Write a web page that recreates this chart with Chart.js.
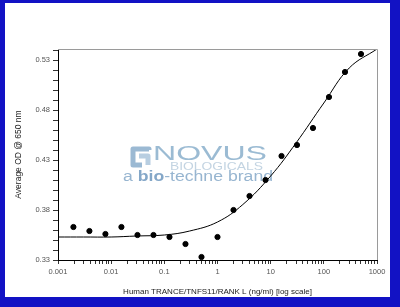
<!DOCTYPE html>
<html>
<head>
<meta charset="utf-8">
<script src="https://cdn.jsdelivr.net/npm/chart.js@4/dist/chart.umd.min.js"></script>
<style>
  html, body { margin: 0; padding: 0; }
  body { width: 400px; height: 307px; background: #1212c4; position: relative; overflow: hidden; }
  #frame { position: absolute; left: 5px; top: 3px; width: 385px; height: 294px; background: #fff; }
</style>
</head>
<body>
<div id="frame"><canvas id="odChart" width="385" height="294"></canvas></div>
<script>
// measured points (ng/ml vs average OD)
const concentrations = [0.00195, 0.0039, 0.0078, 0.0156, 0.03125, 0.0625, 0.125, 0.25, 0.5, 1, 2, 4, 8, 16, 31.25, 62.5, 125, 250, 500];
const avgOD = [0.363, 0.359, 0.356, 0.363, 0.355, 0.355, 0.353, 0.346, 0.333, 0.353, 0.380, 0.394, 0.410, 0.434, 0.445, 0.462, 0.493, 0.518, 0.536];

// fitted curve, every half decade
const fitX = [0.001, 0.003, 0.01, 0.03, 0.1, 0.3, 1, 3, 10, 30, 100, 300, 1000];
const fitY = [0.353, 0.353, 0.353, 0.354, 0.355, 0.359, 0.368, 0.3855, 0.414, 0.447, 0.487, 0.522, 0.541];

// axis ticks
const xTickLabels = ['0.001', '0.01', '0.1', '1', '10', '100', '1000'];
const xTickValues = [0.001, 0.01, 0.1, 1, 10, 100, 1000];
const yTickValues = [0.33, 0.38, 0.43, 0.48, 0.53];
const yMin = 0.33, yMax = 0.541;

const xTitle = 'Human TRANCE/TNFS11/RANK L (ng/ml) [log scale]';
const yTitle = 'Average OD @ 650 nm';

const frameBox = {
  id: 'frameBox',
  afterDatasetsDraw(chart) {
    const { ctx, chartArea: a } = chart;
    ctx.save();
    ctx.strokeStyle = '#9a9a9a';
    ctx.lineWidth = 1;
    ctx.beginPath();
    ctx.moveTo(a.left, a.top + 0.5);
    ctx.lineTo(a.right + 0.5, a.top + 0.5);
    ctx.lineTo(a.right + 0.5, a.bottom);
    ctx.stroke();
    ctx.restore();
  }
};

// draw text stretched to a given width
function fitText(ctx, parts, x, y, w) {
  let total = 0;
  parts.forEach(p => { ctx.font = p.font; total += ctx.measureText(p.text).width; });
  ctx.save();
  ctx.translate(x, y);
  ctx.scale(w / total, 1);
  let cx = 0;
  parts.forEach(p => {
    ctx.font = p.font;
    ctx.fillStyle = p.color;
    ctx.fillText(p.text, cx, 0);
    cx += ctx.measureText(p.text).width;
  });
  ctx.restore();
}

const watermark = {
  id: 'watermark',
  beforeDatasetsDraw(chart) {
    const { ctx, chartArea: a } = chart;
    const ox = a.left, oy = a.top;
    const fam = '"Liberation Sans", Arial, sans-serif';
    ctx.save();
    // logo mark
    ctx.lineJoin = 'round';
    ctx.lineWidth = 5;
    ctx.strokeStyle = 'rgba(130,168,200,0.8)';
    ctx.beginPath();
    ctx.moveTo(ox + 91, oy + 101);
    ctx.lineTo(ox + 91, oy + 100);
    ctx.lineTo(ox + 75, oy + 100);
    ctx.lineTo(ox + 75, oy + 116);
    ctx.lineTo(ox + 84, oy + 116);
    ctx.stroke();
    ctx.strokeStyle = 'rgba(160,190,215,0.75)';
    ctx.beginPath();
    ctx.moveTo(ox + 81, oy + 107);
    ctx.lineTo(ox + 90, oy + 107);
    ctx.lineTo(ox + 90, oy + 116);
    ctx.stroke();
    // wordmark
    fitText(ctx, [{ text: 'NOVUS', font: '19.5px ' + fam, color: 'rgba(130,170,200,0.8)' }], ox + 95, oy + 111, 114);
    fitText(ctx, [{ text: 'BIOLOGICALS', font: '11.5px ' + fam, color: 'rgba(175,198,216,0.75)' }], ox + 112, oy + 121, 93);
    fitText(ctx, [
      { text: 'a ', font: '14px ' + fam, color: 'rgba(125,163,196,0.8)' },
      { text: 'bio', font: 'bold 14px ' + fam, color: 'rgba(110,152,190,0.85)' },
      { text: '-techne brand', font: '14px ' + fam, color: 'rgba(125,163,196,0.8)' }
    ], ox + 65, oy + 132, 150);
    ctx.restore();
  }
};

const ctx = document.getElementById('odChart').getContext('2d');
const chart = new Chart(ctx, {
  type: 'scatter',
  data: {
    datasets: [{
      label: 'Average OD',
      data: concentrations.map((c, i) => ({ x: c, y: avgOD[i] })),
      backgroundColor: '#000',
      borderColor: '#000',
      pointRadius: 2.6,
      pointHoverRadius: 2.6,
      clip: false,
      order: 1
    }, {
      label: 'Fit',
      type: 'line',
      data: fitX.map((c, i) => ({ x: c, y: fitY[i] })),
      borderColor: '#000',
      borderWidth: 1,
      pointRadius: 0,
      tension: 0.4,
      fill: false,
      order: 2
    }]
  },
  options: {
    responsive: false,
    animation: false,
    layout: { padding: { top: 46, right: 13, left: 0, bottom: 0 } },
    plugins: {
      legend: { display: false },
      tooltip: { enabled: false }
    },
    scales: {
      x: {
        type: 'logarithmic',
        min: 0.001,
        max: 1000,
        afterFit(scale) { scale.height = 37; },
        afterBuildTicks(scale) {
          const vals = [];
          for (let e = -3; e < 3; e++) {
            for (let m = 1; m < 10; m++) vals.push(+(m * Math.pow(10, e)).toPrecision(3));
          }
          vals.push(1000);
          scale.ticks = vals.map(v => ({ value: v }));
        },
        border: { display: true, color: '#000', width: 1 },
        grid: { display: true, drawOnChartArea: false, drawTicks: true, tickLength: 4, color: '#333' },
        ticks: {
          autoSkip: false,
          maxRotation: 0,
          padding: 3,
          color: '#555',
          font: { family: '"Liberation Sans", Arial, sans-serif', size: 7.5 },
          callback(v) {
            const i = xTickValues.findIndex(t => Math.abs(t - v) / t < 1e-6);
            return i >= 0 ? xTickLabels[i] : '';
          }
        },
        title: {
          display: true,
          text: xTitle,
          color: '#222',
          padding: { top: 0, bottom: 0 },
          font: { family: '"Liberation Sans", Arial, sans-serif', size: 8 }
        }
      },
      y: {
        min: yMin,
        max: yMax,
        afterFit(scale) { scale.width = 53; },
        afterBuildTicks(scale) {
          const vals = [];
          for (let k = 0; k <= 21; k++) vals.push(+(0.33 + k * 0.01).toFixed(2));
          scale.ticks = vals.filter(v => v <= yMax).map(v => ({ value: v }));
        },
        border: { display: true, color: '#000', width: 1 },
        grid: { display: true, drawOnChartArea: false, drawTicks: true, tickLength: 5, color: '#333' },
        ticks: {
          autoSkip: false,
          padding: 3,
          color: '#555',
          font: { family: '"Liberation Sans", Arial, sans-serif', size: 7.5 },
          callback(v) {
            return yTickValues.some(t => Math.abs(t - v) < 1e-6) ? v.toFixed(2) : '';
          }
        },
        title: {
          display: true,
          text: yTitle,
          color: '#222',
          padding: { top: 9, bottom: 0 },
          font: { family: '"Liberation Sans", Arial, sans-serif', size: 8.5 }
        }
      }
    }
  },
  plugins: [watermark, frameBox]
});
</script>
</body>
</html>
